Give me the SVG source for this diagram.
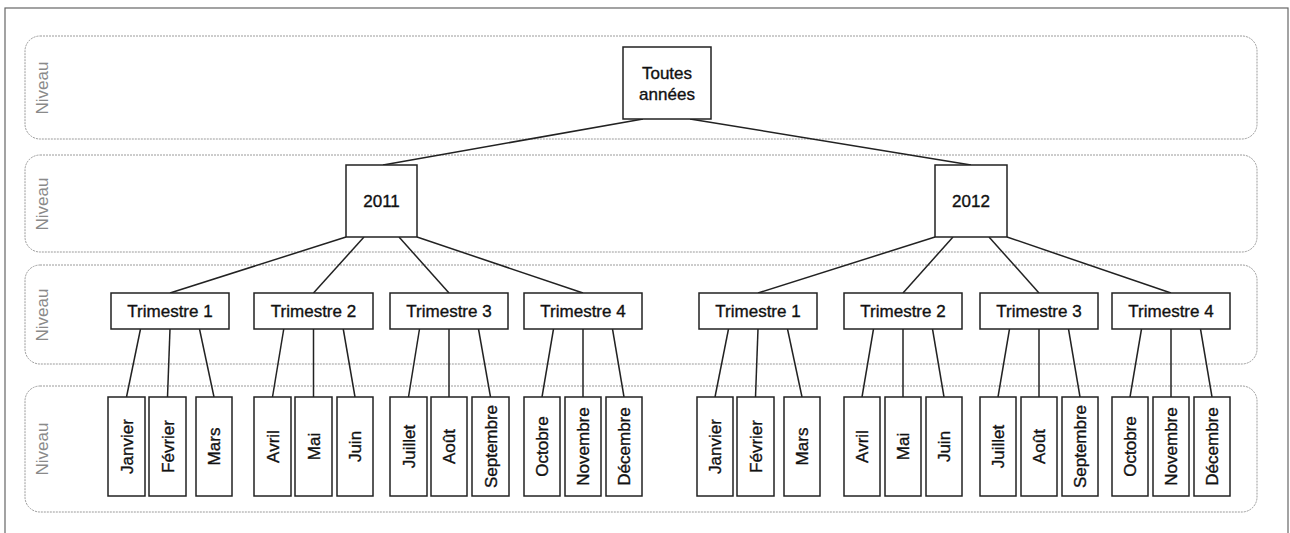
<svg xmlns="http://www.w3.org/2000/svg" width="1290" height="533" viewBox="0 0 1290 533">
<style>
.frame{fill:none;stroke:#666;stroke-width:1.2}
.lane{fill:none;stroke:#9a9a9a;stroke-width:1;stroke-dasharray:2,1}
.lbl{font-family:"Liberation Sans",Arial,sans-serif;font-size:17px;fill:#8a8a8a;text-anchor:middle}
.box{fill:#fff;stroke:#222;stroke-width:1.5}
.t{font-family:"Liberation Sans",Arial,sans-serif;font-size:17px;fill:#111;stroke:#111;stroke-width:0.35;text-anchor:middle}
.c{stroke:#222;stroke-width:1.5;fill:none}
</style>
<rect width="1290" height="533" fill="#fff"/>
<rect class="frame" x="5" y="8" width="1283" height="540"/>
<g id="lanes">
<rect class="lane" x="25" y="36" width="1232" height="103" rx="15"/>
<rect class="lane" x="25" y="155" width="1232" height="97" rx="15"/>
<rect class="lane" x="25" y="265" width="1232" height="99" rx="15"/>
<rect class="lane" x="25" y="386" width="1232" height="126" rx="15"/>
<text class="lbl" transform="translate(48,88) rotate(-90)">Niveau</text>
<text class="lbl" transform="translate(48,204) rotate(-90)">Niveau</text>
<text class="lbl" transform="translate(48,315) rotate(-90)">Niveau</text>
<text class="lbl" transform="translate(48,449) rotate(-90)">Niveau</text>
</g>
<g id="connectors">
<line class="c" x1="643" y1="119" x2="383" y2="165"/>
<line class="c" x1="690" y1="119" x2="971" y2="165"/>
<line class="c" x1="346" y1="237" x2="170" y2="293"/>
<line class="c" x1="364" y1="237" x2="313.5" y2="293"/>
<line class="c" x1="399" y1="237" x2="449" y2="293"/>
<line class="c" x1="417" y1="237" x2="583" y2="293"/>
<line class="c" x1="935" y1="237" x2="758" y2="293"/>
<line class="c" x1="953" y1="237" x2="903" y2="293"/>
<line class="c" x1="989" y1="237" x2="1039" y2="293"/>
<line class="c" x1="1007" y1="237" x2="1171" y2="293"/>
<line class="c" x1="140.5" y1="329" x2="126.5" y2="397"/>
<line class="c" x1="170" y1="329" x2="167.5" y2="397"/>
<line class="c" x1="199.5" y1="329" x2="214" y2="397"/>
<line class="c" x1="283.75" y1="329" x2="272.5" y2="397"/>
<line class="c" x1="313.5" y1="329" x2="313.5" y2="397"/>
<line class="c" x1="343.25" y1="329" x2="355" y2="397"/>
<line class="c" x1="419.5" y1="329" x2="408.5" y2="397"/>
<line class="c" x1="449" y1="329" x2="449" y2="397"/>
<line class="c" x1="478.5" y1="329" x2="490.5" y2="397"/>
<line class="c" x1="553.5" y1="329" x2="542" y2="397"/>
<line class="c" x1="583" y1="329" x2="583" y2="397"/>
<line class="c" x1="612.5" y1="329" x2="624" y2="397"/>
<line class="c" x1="728.5" y1="329" x2="715" y2="397"/>
<line class="c" x1="758" y1="329" x2="755.5" y2="397"/>
<line class="c" x1="787.5" y1="329" x2="802" y2="397"/>
<line class="c" x1="873.5" y1="329" x2="862" y2="397"/>
<line class="c" x1="903" y1="329" x2="903" y2="397"/>
<line class="c" x1="932.5" y1="329" x2="944" y2="397"/>
<line class="c" x1="1009.5" y1="329" x2="998" y2="397"/>
<line class="c" x1="1039" y1="329" x2="1039" y2="397"/>
<line class="c" x1="1068.5" y1="329" x2="1080" y2="397"/>
<line class="c" x1="1141.5" y1="329" x2="1130" y2="397"/>
<line class="c" x1="1171" y1="329" x2="1171" y2="397"/>
<line class="c" x1="1200.5" y1="329" x2="1212" y2="397"/>
</g>
<g id="root"><rect class="box" x="623" y="47" width="88" height="72"/><text class="t" x="667" y="79">Toutes</text><text class="t" x="667" y="100">années</text></g>
<g id="y2011"><rect class="box" x="346" y="165" width="71" height="72"/><text class="t" x="381.5" y="207">2011</text></g>
<g id="y2012"><rect class="box" x="935" y="165" width="72" height="72"/><text class="t" x="971" y="207">2012</text></g>
<g id="q1_2011"><rect class="box" x="111" y="293" width="118" height="36"/><text class="t" x="170" y="317">Trimestre 1</text></g>
<g id="q2_2011"><rect class="box" x="254" y="293" width="119" height="36"/><text class="t" x="313.5" y="317">Trimestre 2</text></g>
<g id="q3_2011"><rect class="box" x="390" y="293" width="118" height="36"/><text class="t" x="449" y="317">Trimestre 3</text></g>
<g id="q4_2011"><rect class="box" x="524" y="293" width="118" height="36"/><text class="t" x="583" y="317">Trimestre 4</text></g>
<g id="q1_2012"><rect class="box" x="699" y="293" width="118" height="36"/><text class="t" x="758" y="317">Trimestre 1</text></g>
<g id="q2_2012"><rect class="box" x="844" y="293" width="118" height="36"/><text class="t" x="903" y="317">Trimestre 2</text></g>
<g id="q3_2012"><rect class="box" x="980" y="293" width="118" height="36"/><text class="t" x="1039" y="317">Trimestre 3</text></g>
<g id="q4_2012"><rect class="box" x="1112" y="293" width="118" height="36"/><text class="t" x="1171" y="317">Trimestre 4</text></g>
<g id="m01_2011"><rect class="box" x="108" y="397" width="37" height="99"/><text class="t" transform="translate(132.5,446.5) rotate(-90)">Janvier</text></g>
<g id="m02_2011"><rect class="box" x="149" y="397" width="37" height="99"/><text class="t" transform="translate(173.5,446.5) rotate(-90)">Février</text></g>
<g id="m03_2011"><rect class="box" x="196" y="397" width="36" height="99"/><text class="t" transform="translate(220,446.5) rotate(-90)">Mars</text></g>
<g id="m04_2011"><rect class="box" x="254" y="397" width="37" height="99"/><text class="t" transform="translate(278.5,446.5) rotate(-90)">Avril</text></g>
<g id="m05_2011"><rect class="box" x="295" y="397" width="37" height="99"/><text class="t" transform="translate(319.5,446.5) rotate(-90)">Mai</text></g>
<g id="m06_2011"><rect class="box" x="337" y="397" width="36" height="99"/><text class="t" transform="translate(361,446.5) rotate(-90)">Juin</text></g>
<g id="m07_2011"><rect class="box" x="390" y="397" width="37" height="99"/><text class="t" transform="translate(414.5,446.5) rotate(-90)">Juillet</text></g>
<g id="m08_2011"><rect class="box" x="431" y="397" width="36" height="99"/><text class="t" transform="translate(455,446.5) rotate(-90)">Août</text></g>
<g id="m09_2011"><rect class="box" x="472" y="397" width="37" height="99"/><text class="t" transform="translate(496.5,446.5) rotate(-90)">Septembre</text></g>
<g id="m10_2011"><rect class="box" x="524" y="397" width="36" height="99"/><text class="t" transform="translate(548,446.5) rotate(-90)">Octobre</text></g>
<g id="m11_2011"><rect class="box" x="565" y="397" width="36" height="99"/><text class="t" transform="translate(589,446.5) rotate(-90)">Novembre</text></g>
<g id="m12_2011"><rect class="box" x="606" y="397" width="36" height="99"/><text class="t" transform="translate(630,446.5) rotate(-90)">Décembre</text></g>
<g id="m01_2012"><rect class="box" x="697" y="397" width="36" height="99"/><text class="t" transform="translate(721,446.5) rotate(-90)">Janvier</text></g>
<g id="m02_2012"><rect class="box" x="737" y="397" width="37" height="99"/><text class="t" transform="translate(761.5,446.5) rotate(-90)">Février</text></g>
<g id="m03_2012"><rect class="box" x="784" y="397" width="36" height="99"/><text class="t" transform="translate(808,446.5) rotate(-90)">Mars</text></g>
<g id="m04_2012"><rect class="box" x="844" y="397" width="36" height="99"/><text class="t" transform="translate(868,446.5) rotate(-90)">Avril</text></g>
<g id="m05_2012"><rect class="box" x="885" y="397" width="36" height="99"/><text class="t" transform="translate(909,446.5) rotate(-90)">Mai</text></g>
<g id="m06_2012"><rect class="box" x="926" y="397" width="36" height="99"/><text class="t" transform="translate(950,446.5) rotate(-90)">Juin</text></g>
<g id="m07_2012"><rect class="box" x="980" y="397" width="36" height="99"/><text class="t" transform="translate(1004,446.5) rotate(-90)">Juillet</text></g>
<g id="m08_2012"><rect class="box" x="1021" y="397" width="36" height="99"/><text class="t" transform="translate(1045,446.5) rotate(-90)">Août</text></g>
<g id="m09_2012"><rect class="box" x="1062" y="397" width="36" height="99"/><text class="t" transform="translate(1086,446.5) rotate(-90)">Septembre</text></g>
<g id="m10_2012"><rect class="box" x="1112" y="397" width="36" height="99"/><text class="t" transform="translate(1136,446.5) rotate(-90)">Octobre</text></g>
<g id="m11_2012"><rect class="box" x="1153" y="397" width="36" height="99"/><text class="t" transform="translate(1177,446.5) rotate(-90)">Novembre</text></g>
<g id="m12_2012"><rect class="box" x="1194" y="397" width="36" height="99"/><text class="t" transform="translate(1218,446.5) rotate(-90)">Décembre</text></g>
</svg>
